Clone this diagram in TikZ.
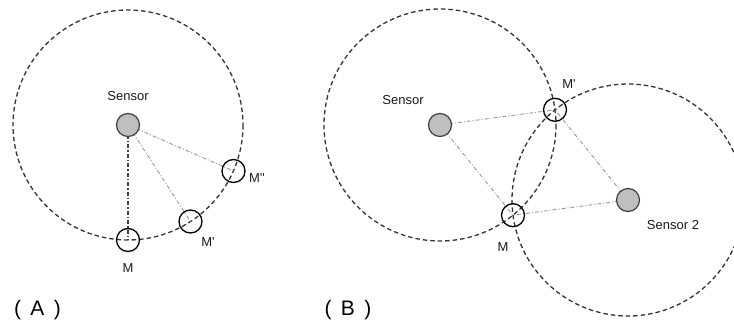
\documentclass[tikz,border=0pt]{standalone}
\usepackage{fontspec}
\setmainfont{Liberation Sans}
\begin{document}
\begin{tikzpicture}[x=1pt,y=-1pt,
  rangecirc/.style={draw=black!80,line width=1.3pt,dash pattern=on 4.5pt off 3pt},
  sensorbox/.style={circle,draw=black!75,fill=black!25,line width=1.2pt,minimum size=23pt,inner sep=0pt},
  mobbox/.style={circle,draw=black,line width=1.3pt,minimum size=23pt,inner sep=0pt},
  linkline/.style={draw=black!40,line width=0.9pt,dash pattern=on 4pt off 2pt on 1pt off 2pt},
  vlinkline/.style={draw=black!75,line width=1.2pt,dash pattern=on 4pt off 2pt on 1.5pt off 2pt},
  labtext/.style={font=\fontsize{13}{15}\selectfont,text=black!90},
  bigtext/.style={font=\fontsize{21}{24}\selectfont}]
\useasboundingbox (0,0) rectangle (734,327);
\clip (0,0) rectangle (734,327);
% ---------- panel A ----------
\coordinate (cA) at (128,125);
\draw[rangecirc] (cA) circle[radius=115];
\coordinate (pM) at (128,240);
\coordinate (pM1) at (190.5,221.5);
\coordinate (pM2) at (233.5,171);
\draw[vlinkline] (cA) -- (pM);
\draw[linkline] (cA) -- (pM1);
\draw[linkline] (cA) -- (pM2);
\node[sensorbox] (sA) at (cA) {};
\node[mobbox] (mA) at (pM) {};
\node[mobbox] (mA1) at (pM1) {};
\node[mobbox] (mA2) at (pM2) {};
\node[labtext] (tsA) at (128,96) {Sensor};
\node[labtext] (tmA) at (128,268) {M};
\node[labtext] (tmA1) at (208,242) {M\textquotesingle};
\node[labtext] (tmA2) at (257,178) {M\textquotesingle\textquotesingle};
\node[bigtext] (tA) at (37.5,310) {(\hspace{0.45em}A\hspace{0.45em})};
% ---------- panel B ----------
\coordinate (c1) at (440,125);
\coordinate (c2) at (628,200);
\draw[rangecirc] (c1) circle[radius=116];
\draw[rangecirc] (c2) circle[radius=116];
\coordinate (pBM) at (513,215.2);
\coordinate (pBM1) at (555,109.8);
\draw[linkline] (c1) -- (pBM1);
\draw[linkline] (c1) -- (pBM);
\draw[linkline] (c2) -- (pBM1);
\draw[linkline] (c2) -- (pBM);
\node[sensorbox] (s1) at (c1) {};
\node[sensorbox] (s2) at (c2) {};
\node[mobbox] (mB) at (pBM) {};
\node[mobbox] (mB1) at (pBM1) {};
\node[labtext] (ts1) at (403,100) {Sensor};
\node[labtext] (ts2) at (673,225) {Sensor 2};
\node[labtext] (tmB) at (503,247) {M};
\node[labtext] (tmB1) at (569,84) {M\textquotesingle};
\node[bigtext] (tB) at (348,310) {(\hspace{0.45em}B\hspace{0.45em})};
\end{tikzpicture}
\end{document}
